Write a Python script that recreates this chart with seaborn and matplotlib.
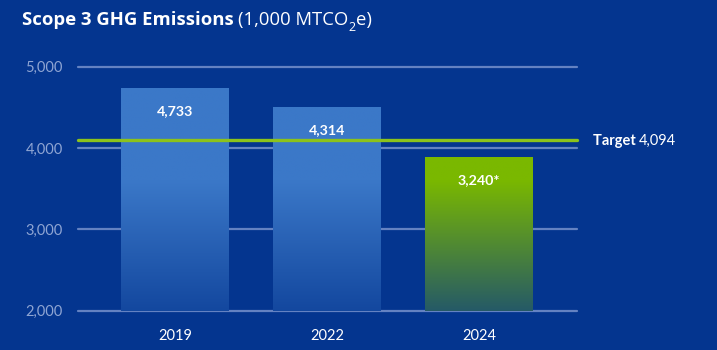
import numpy as np
import pandas as pd
import matplotlib
matplotlib.use("Agg")
import matplotlib.pyplot as plt
import matplotlib.colors as mcolors
import seaborn as sns

# ---- data ----
years = ["2019", "2022", "2024"]
bar_heights = [4733, 4500, 3886]          # heights as drawn in the picture
value_labels = ["4,733", "4,314", "3,240*"]
bar_colors = ["#3b78c8", "#3b78c8", "#7ab800"]
target_value = 4094
target_label = "4,094"
y_ticks = [2000, 3000, 4000, 5000]
y_tick_labels = ["2,000", "3,000", "4,000", "5,000"]

BG = "#04358f"
FONT = "Lato"
TFONT = "Open Sans"

sns.set_theme(style="white")
plt.rcParams["font.family"] = [FONT, "DejaVu Sans"]

fig = plt.figure(figsize=(7.17, 3.5), dpi=100, facecolor=BG)
ax = fig.add_axes([78 / 717, 1 - 310.7 / 350, (576.7 - 78) / 717, (310.7 - 66.7) / 350])
ax.set_facecolor(BG)

df = pd.DataFrame({"year": years, "value": bar_heights})
sns.barplot(data=df, x="year", y="value", hue="year", palette=bar_colors,
            legend=False, width=0.71, ax=ax, zorder=2, saturation=1)

# gradient fill for bars
bg_rgb = np.array(mcolors.to_rgb(BG))
for patch, col in zip(ax.patches, bar_colors):
    x0 = patch.get_x()
    w = patch.get_width()
    top = patch.get_y() + patch.get_height()
    n = 200
    ys = np.linspace(2000, top, n)
    t = np.clip((ys - 2000) / (3600 - 2000), 0, 1)
    alpha = 0.28 + 0.72 * t
    c = np.array(mcolors.to_rgb(col))
    rgb = bg_rgb[None, :] * (1 - alpha[:, None]) + c[None, :] * alpha[:, None]
    img = rgb[:, None, :]
    ax.imshow(img, extent=[x0, x0 + w, 2000, top], origin="lower",
              aspect="auto", zorder=2, interpolation="bilinear")
    patch.set_facecolor("none")
    patch.set_edgecolor("none")

ax.set_xlim(-0.638, 2.643)
ax.set_ylim(2000, 5000)

# gridlines
for yv in y_ticks:
    ax.axhline(yv, color="#6482c2", lw=1.6, zorder=1, clip_on=False)

# target line
ax.axhline(target_value, color="#8cc21c", lw=2.4, zorder=4, clip_on=False)

# value labels
for i, (h, lab) in enumerate(zip(bar_heights, value_labels)):
    ax.annotate(lab, xy=(i, h), xytext=(0, -23), textcoords="offset pixels",
                ha="center", va="center", color="white", fontsize=10.3,
                fontweight="bold", zorder=5)

# axes styling
for s in ax.spines.values():
    s.set_visible(False)
ax.set_yticks(y_ticks)
ax.set_yticklabels(y_tick_labels)
ax.tick_params(axis="y", colors="#8fa5d3", labelsize=10.5, length=0, pad=11)
ax.tick_params(axis="x", colors="white", labelsize=10.5, length=0, pad=13)
ax.set_xlabel("")
ax.set_ylabel("")
ax.grid(False)

# target text
t1 = fig.text(593 / 717, 1 - 141 / 350, "Target ", color="white", fontsize=10.5,
              fontweight="bold", va="center", ha="left")
ax.annotate(target_label, xy=(1, 0), xycoords=t1, xytext=(0, 0),
            textcoords="offset pixels", va="bottom", ha="left",
            color="white", fontsize=10.5, annotation_clip=False)

# title
tfam = [TFONT, "DejaVu Sans"]
tt = fig.text(22 / 717, 1 - 20 / 350, "Scope 3 GHG Emissions ", color="white",
              fontsize=13.3, fontweight="bold", va="center", ha="left",
              family=tfam)
t2 = ax.annotate("(1,000 MTCO", xy=(1, 0), xycoords=tt, va="bottom", ha="left",
                 color="white", fontsize=13.3, annotation_clip=False,
                 family=tfam)
t3 = ax.annotate("2", xy=(1, 0), xycoords=t2, xytext=(0, -5),
                 textcoords="offset pixels", va="bottom", ha="left",
                 color="white", fontsize=9, annotation_clip=False,
                 family=tfam)
ax.annotate("e)", xy=(1, 0), xycoords=t3, xytext=(0, 5),
            textcoords="offset pixels", va="bottom", ha="left",
            color="white", fontsize=13.3, annotation_clip=False,
            family=tfam)

fig.savefig("out.png", dpi=100, facecolor=BG)
